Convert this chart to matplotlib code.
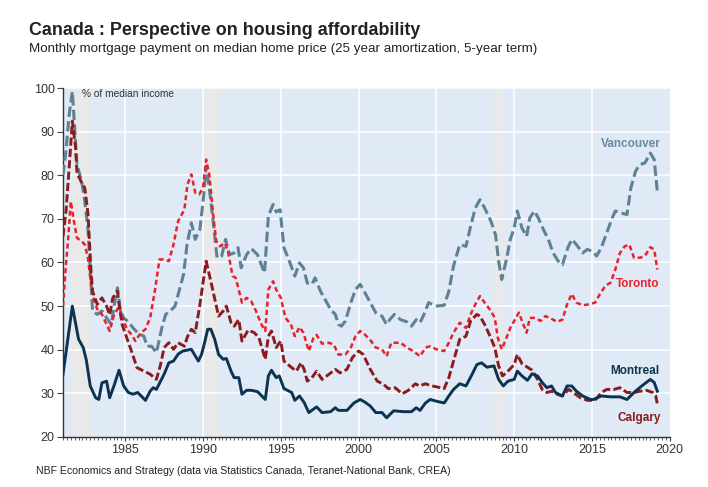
import numpy as np
from matplotlib import pyplot as plt

plt.rcParams['font.family'] = ['Liberation Sans', 'DejaVu Sans']

# values (year, % of median income)
vancouver = [
    (1981.0, 80), (1981.2, 86), (1981.4, 94), (1981.6, 99.2), (1981.75, 90.8),
    (1981.9, 82.4), (1982.2, 78.6), (1982.4, 74), (1982.6, 67.9), (1982.8, 55),
    (1982.9, 48.9), (1983.2, 48.1), (1983.5, 48.9), (1983.8, 47.3), (1984.1, 45.8),
    (1984.3, 50.4), (1984.5, 54.2), (1984.7, 48.9), (1984.9, 47.3), (1985.2, 46.4),
    (1985.5, 45), (1985.85, 43.7), (1986.2, 43.1), (1986.4, 40.8), (1986.7, 40.8),
    (1987.0, 39.3), (1987.35, 45), (1987.6, 48.1), (1987.9, 48.9), (1988.2, 50),
    (1988.5, 54), (1988.75, 57.3), (1988.97, 64.1), (1989.25, 69.1), (1989.5, 65.3),
    (1989.8, 67.6), (1990.05, 75.6), (1990.2, 82.1), (1990.4, 77.1), (1990.65, 69.5),
    (1990.9, 61.1), (1991.2, 61.5), (1991.45, 65.3), (1991.7, 61.8), (1992.0, 62.2),
    (1992.25, 63.4), (1992.45, 58.8), (1992.8, 61.8), (1993.1, 63.2), (1993.5, 61.8),
    (1993.95, 57.6), (1994.2, 70.6), (1994.5, 73.3), (1994.7, 71.6), (1994.95, 72.1),
    (1995.2, 63.4), (1995.55, 60.3), (1995.9, 56.9), (1996.2, 59.9), (1996.45, 58.8),
    (1996.7, 55.3), (1997.0, 55), (1997.2, 56.5), (1997.55, 53.4), (1997.85, 51.5),
    (1998.2, 49.2), (1998.5, 48.1), (1998.7, 45.8), (1998.9, 45.4), (1999.15, 46.6),
    (1999.5, 50.8), (1999.8, 53.8), (2000.1, 55), (2000.4, 53.1), (2000.75, 50.8),
    (2001.1, 48.5), (2001.5, 47.7), (2001.8, 45.8), (2002.0, 46.9), (2002.3, 48.1),
    (2002.7, 46.9), (2003.1, 46.4), (2003.4, 45.4), (2003.7, 46.9), (2003.95, 46.2),
    (2004.2, 48.1), (2004.5, 50.8), (2004.95, 50), (2005.5, 50.2), (2005.8, 53.4),
    (2006.1, 59.2), (2006.5, 64.1), (2006.9, 63.7), (2007.2, 68.3), (2007.5, 72.5),
    (2007.8, 74.4), (2008.1, 72.5), (2008.5, 69.5), (2008.8, 66.4), (2009.0, 60.3),
    (2009.2, 56.1), (2009.5, 60.7), (2009.75, 65.3), (2010.0, 67.9), (2010.2, 71.8),
    (2010.5, 67.9), (2010.8, 66), (2011.0, 70.2), (2011.3, 71.8), (2011.55, 70.2),
    (2011.9, 67.4), (2012.2, 65.3), (2012.5, 62.2), (2012.9, 59.9), (2013.1, 59.5),
    (2013.45, 63.4), (2013.7, 65.3), (2014.0, 64.1), (2014.4, 62.2), (2014.7, 63),
    (2015.0, 62.6), (2015.3, 61.5), (2015.6, 63.4), (2015.95, 66.8), (2016.3, 70.2),
    (2016.5, 71.8), (2016.8, 71.4), (2017.25, 71), (2017.5, 77.1), (2017.8, 80.9),
    (2018.05, 82.4), (2018.4, 82.8), (2018.75, 85.1), (2019.0, 83.6), (2019.2, 76.3),
]

toronto = [
    (1981.0, 50), (1981.2, 60), (1981.35, 66.3), (1981.5, 74), (1981.7, 69.5),
    (1981.9, 65.6), (1982.2, 64.9), (1982.4, 64.1), (1982.6, 61.1), (1982.8, 55),
    (1983.0, 51.1), (1983.25, 48.9), (1983.5, 48.1), (1983.8, 45.8), (1984.0, 44.3),
    (1984.25, 47.7), (1984.6, 50), (1984.8, 47.7), (1985.1, 44.7), (1985.4, 43.5),
    (1985.65, 42), (1986.0, 43.9), (1986.3, 44.7), (1986.6, 47.3), (1986.9, 53.4),
    (1987.2, 60.7), (1987.5, 60.7), (1987.8, 60.3), (1988.1, 64.1), (1988.4, 69.5),
    (1988.8, 72.1), (1989.0, 77.9), (1989.25, 80.2), (1989.5, 76), (1989.75, 75.6),
    (1990.0, 77.1), (1990.2, 83.6), (1990.4, 80.2), (1990.65, 71), (1990.85, 64.9),
    (1991.1, 63.7), (1991.4, 64.5), (1991.6, 62.6), (1991.9, 56.9), (1992.1, 56.5),
    (1992.5, 50.8), (1992.8, 51.9), (1993.1, 51.1), (1993.4, 48.9), (1993.75, 45.8),
    (1994.0, 44.3), (1994.2, 53.8), (1994.5, 55.7), (1994.7, 53.8), (1995.0, 51.9),
    (1995.3, 47.3), (1995.65, 45.8), (1995.9, 43.1), (1996.2, 45.2), (1996.45, 43.9),
    (1996.8, 39.7), (1997.1, 42.7), (1997.3, 43.4), (1997.65, 41.4), (1998.1, 41.6),
    (1998.4, 41.2), (1998.7, 38.9), (1999.15, 38.9), (1999.5, 40.5), (1999.8, 43.1),
    (2000.1, 44.3), (2000.4, 43.5), (2000.8, 42), (2001.1, 40.5), (2001.5, 40.1),
    (2001.8, 38.5), (2002.1, 41.6), (2002.7, 41.6), (2003.1, 40.5), (2003.5, 39.7),
    (2003.95, 38.5), (2004.3, 40.5), (2004.6, 40.8), (2005.0, 40.1), (2005.5, 39.7),
    (2005.8, 41.6), (2006.1, 43.9), (2006.5, 46.2), (2006.9, 45), (2007.2, 48.1),
    (2007.5, 50.4), (2007.8, 52.3), (2008.1, 50.8), (2008.5, 48.9), (2008.75, 47.3),
    (2008.95, 42.7), (2009.2, 40.1), (2009.5, 42.7), (2009.75, 45), (2010.0, 46.6),
    (2010.3, 48.5), (2010.5, 46.6), (2010.8, 43.9), (2011.0, 47.3), (2011.35, 47.3),
    (2011.7, 46.6), (2012.0, 47.7), (2012.3, 47.3), (2012.75, 46.4), (2013.1, 46.9),
    (2013.4, 50.4), (2013.7, 52.8), (2014.0, 50.8), (2014.4, 50.2), (2014.8, 50.4),
    (2015.2, 50.8), (2015.5, 52.7), (2015.85, 54.6), (2016.2, 55.4), (2016.5, 58.4),
    (2016.8, 62.2), (2017.1, 63.7), (2017.4, 64.1), (2017.7, 61.1), (2018.1, 61.1),
    (2018.4, 61.5), (2018.75, 63.5), (2019.0, 63), (2019.2, 58.4),
]

calgary = [
    (1981.0, 66), (1981.2, 72), (1981.4, 82), (1981.6, 92.4), (1981.8, 86.6),
    (1981.9, 80.5), (1982.2, 78.3), (1982.4, 77.1), (1982.6, 71.4), (1982.8, 58),
    (1982.9, 53.4), (1983.2, 50.4), (1983.5, 51.9), (1983.8, 50), (1984.0, 48),
    (1984.2, 51.9), (1984.5, 53.4), (1984.6, 50.4), (1984.8, 45.8), (1985.1, 42.7),
    (1985.4, 39.7), (1985.75, 35.9), (1986.2, 35.1), (1986.6, 34.4), (1987.0, 33.2),
    (1987.25, 36.3), (1987.5, 40.5), (1987.8, 41.6), (1988.1, 40.1), (1988.4, 41.6),
    (1988.8, 40.8), (1989.0, 43), (1989.25, 44.7), (1989.5, 43.9), (1989.8, 50.4),
    (1990.2, 60.3), (1990.5, 55.7), (1991.0, 47.7), (1991.3, 48.9), (1991.5, 50),
    (1991.8, 46.2), (1992.0, 45.4), (1992.3, 46.9), (1992.5, 42), (1992.9, 44.5),
    (1993.3, 43.9), (1993.6, 42.7), (1994.0, 37.8), (1994.2, 43.1), (1994.4, 44.3),
    (1994.7, 40.5), (1995.0, 42), (1995.2, 37.4), (1995.7, 35.9), (1996.0, 35.1),
    (1996.3, 37), (1996.5, 35.5), (1996.7, 32.8), (1997.0, 33.6), (1997.3, 35.1),
    (1997.65, 33.2), (1998.1, 34.4), (1998.5, 35.5), (1998.8, 34.7), (1999.25, 35.5),
    (1999.6, 38.2), (2000.0, 39.7), (2000.3, 38.9), (2000.75, 35.5), (2001.2, 32.8),
    (2001.6, 32.1), (2001.9, 31.1), (2002.35, 31.3), (2002.8, 29.9), (2003.2, 30.7),
    (2003.65, 32.2), (2003.9, 31.7), (2004.3, 32.2), (2004.6, 31.8), (2005.0, 31.5),
    (2005.5, 31.1), (2005.8, 33.6), (2006.1, 37.4), (2006.5, 42.4), (2006.9, 43.1),
    (2007.2, 46.6), (2007.6, 48.1), (2007.8, 47.7), (2008.1, 45.8), (2008.5, 42.7),
    (2008.75, 40.5), (2009.0, 36.3), (2009.25, 34), (2009.6, 35.1), (2010.0, 36.6),
    (2010.2, 38.9), (2010.5, 36.8), (2010.85, 36), (2011.15, 35.3), (2011.5, 33.2),
    (2011.8, 30.9), (2012.1, 30.2), (2012.4, 30.5), (2012.75, 29.8), (2013.1, 29.4),
    (2013.5, 30.9), (2013.8, 30.2), (2014.25, 29), (2014.7, 28.4), (2015.2, 28.4),
    (2015.6, 30.2), (2015.95, 30.9), (2016.4, 30.9), (2016.8, 31.3), (2017.25, 30.2),
    (2017.7, 30.2), (2018.1, 30.5), (2018.5, 30.7), (2018.9, 30.2), (2019.1, 29.4),
    (2019.2, 27.6),
]

montreal = [
    (1981.0, 34.4), (1981.6, 50), (1982.0, 42.4), (1982.3, 40.5), (1982.5, 37.6),
    (1982.75, 31.7), (1983.1, 29), (1983.3, 28.6), (1983.5, 32.4), (1983.8, 32.8),
    (1984.0, 29), (1984.3, 32), (1984.6, 35.3), (1984.9, 31.7), (1985.2, 30.2),
    (1985.5, 29.8), (1985.8, 30.2), (1986.3, 28.4), (1986.6, 30.5), (1986.8, 31.3),
    (1987.0, 30.9), (1987.5, 34.4), (1987.8, 37), (1988.1, 37.4), (1988.4, 39),
    (1988.7, 39.7), (1989.25, 40.1), (1989.7, 37.4), (1989.9, 38.9), (1990.1, 41.6),
    (1990.3, 44.7), (1990.5, 44.7), (1990.75, 42.4), (1991.0, 38.9), (1991.3, 37.8),
    (1991.5, 38), (1991.8, 35.1), (1992.0, 33.6), (1992.3, 33.6), (1992.5, 29.8),
    (1992.8, 30.7), (1993.1, 30.7), (1993.5, 30.4), (1994.0, 28.6), (1994.2, 34),
    (1994.4, 35.3), (1994.7, 33.6), (1994.9, 34), (1995.2, 31.1), (1995.7, 30.2),
    (1995.9, 28.4), (1996.2, 29.4), (1996.5, 27.9), (1996.8, 25.6), (1997.3, 26.9),
    (1997.65, 25.6), (1998.2, 25.8), (1998.5, 26.7), (1998.7, 26.1), (1999.25, 26.1),
    (1999.7, 27.8), (2000.1, 28.6), (2000.4, 28), (2000.75, 27.1), (2001.1, 25.6),
    (2001.5, 25.6), (2001.8, 24.4), (2002.25, 26), (2002.9, 25.8), (2003.4, 25.8),
    (2003.7, 26.7), (2003.95, 26.1), (2004.3, 27.8), (2004.6, 28.6), (2005.0, 28.2),
    (2005.5, 27.8), (2005.8, 29.4), (2006.1, 30.9), (2006.5, 32.2), (2006.9, 31.7),
    (2007.3, 34.4), (2007.6, 36.6), (2007.9, 37), (2008.25, 36), (2008.7, 36.3),
    (2009.0, 33.2), (2009.3, 31.7), (2009.6, 32.8), (2010.0, 33.2), (2010.2, 35.1),
    (2010.5, 34), (2010.85, 33), (2011.15, 34.5), (2011.5, 34), (2011.8, 32.5),
    (2012.1, 31.3), (2012.4, 31.7), (2012.65, 30.2), (2013.1, 29.4), (2013.4, 31.7),
    (2013.7, 31.7), (2014.0, 30.5), (2014.4, 29.4), (2014.9, 28.6), (2015.1, 28.6),
    (2015.6, 29.4), (2016.2, 29.2), (2016.8, 29.2), (2017.25, 28.6), (2017.7, 30.2),
    (2018.2, 31.7), (2018.75, 33.2), (2019.0, 32.5), (2019.2, 30.5),
]

recessions = [(1981.5, 1982.8), (1990.05, 1991.0), (2008.7, 2009.3)]

# colours
c_van = '#5f8195'
c_tor = '#e8212b'
c_cal = '#8c1b1e'
c_mtl = '#0c3350'


def series(pairs):
    arr = np.array(pairs)
    return arr[:, 0], arr[:, 1]


def main():
    fig = plt.figure(figsize=(7.08, 4.87), dpi=100)
    ax = fig.add_axes([0.089, 0.1027, 0.857, 0.7166])
    ax.set_facecolor('#dfeaf6')

    for a, b in recessions:
        ax.axvspan(a, b, color='#e9e9ea', lw=0, zorder=0.5)

    for yv in range(30, 101, 10):
        ax.axhline(yv, color='white', lw=1.1, zorder=1)
    for xv in range(1985, 2020, 5):
        ax.axvline(xv, color='white', lw=1.1, zorder=1)

    x, y = series(vancouver)
    ax.plot(x, y, color=c_van, lw=2.2, dashes=(3.4, 1.4), zorder=3)
    x, y = series(toronto)
    ax.plot(x, y, color=c_tor, lw=1.8, dashes=(2.0, 1.3), zorder=4)
    x, y = series(calgary)
    ax.plot(x, y, color=c_cal, lw=2.1, dashes=(2.8, 1.1), zorder=5)
    x, y = series(montreal)
    ax.plot(x, y, color=c_mtl, lw=2.1, zorder=6)

    ax.set_xlim(1981.0, 2020)
    ax.set_ylim(20, 100)
    ax.set_xticks(range(1985, 2021, 5))
    ax.set_xticks(np.arange(1981.0, 2020.01, 0.25), minor=True)
    ax.set_yticks(range(20, 101, 10))
    ax.tick_params(axis='x', which='major', length=3, width=0.8, colors='#444444',
                   labelcolor='#333333', labelsize=9, pad=2)
    ax.tick_params(axis='x', which='minor', length=2.5, width=0.6, colors='#444444')
    ax.tick_params(axis='y', length=4, width=0.8, colors='#444444',
                   labelcolor='#333333', labelsize=9, pad=2)
    for s in ['top', 'right']:
        ax.spines[s].set_visible(False)
    for s in ['left', 'bottom']:
        ax.spines[s].set_color('#333333')
        ax.spines[s].set_linewidth(1.0)

    ax.text(1982.2, 98.6, '% of median income', fontsize=7.3, color='#333333',
            va='center', ha='left')
    ax.text(2019.42, 87.2, 'Vancouver', color='#6b8ba0', fontsize=8.5,
            fontweight='bold', ha='right', va='center')
    ax.text(2019.36, 55.1, 'Toronto', color=c_tor, fontsize=8.5,
            fontweight='bold', ha='right', va='center')
    ax.text(2019.3, 35.1, 'Montreal', color=c_mtl, fontsize=8.5,
            fontweight='bold', ha='right', va='center')
    ax.text(2019.42, 24.4, 'Calgary', color=c_cal, fontsize=8.5,
            fontweight='bold', ha='right', va='center')

    fig.text(0.041, 0.938, 'Canada : Perspective on housing affordability',
             fontsize=12.9, fontweight='bold', color='#222222', va='center')
    fig.text(0.041, 0.899,
             'Monthly mortgage payment on median home price (25 year amortization, 5-year term)',
             fontsize=9.6, color='#222222', va='center')
    fig.text(0.051, 0.033,
             'NBF Economics and Strategy (data via Statistics Canada, Teranet-National Bank, CREA)',
             fontsize=7.6, color='#222222', va='center')

    fig.savefig('out.png', dpi=100)


if __name__ == '__main__':
    main()
